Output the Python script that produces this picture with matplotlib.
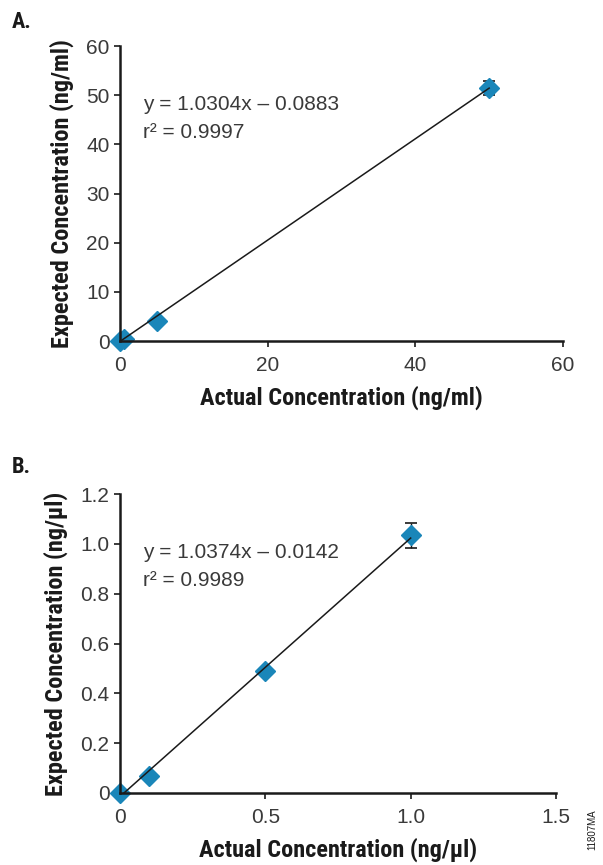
import matplotlib
matplotlib.use("Agg")
import matplotlib.pyplot as plt
import numpy as np
from matplotlib import font_manager

names = {f.name for f in font_manager.fontManager.ttflist}
narrow = "Roboto"
for cand in ["Roboto Condensed", "Liberation Sans Narrow", "Open Sans Condensed",
             "Arial Narrow", "DejaVu Sans Condensed", "Roboto"]:
    if cand in names:
        narrow = cand
        break
plt.rcParams['font.family'] = ['Liberation Sans', 'DejaVu Sans']

# Panel A data
a_x = [0, 0.5, 5, 50]
a_y = [0.0, 0.4, 4.0, 51.45]
a_err = [0, 0, 0, 1.5]
a_slope, a_icpt = 1.0304, -0.0883
a_eq = ["y = 1.0304x \u2013 0.0883", "r\u00b2 = 0.9997"]
a_xticks = [0, 20, 40, 60]
a_yticks = [0, 10, 20, 30, 40, 50, 60]

# Panel B data
b_x = [0, 0.1, 0.5, 1.0]
b_y = [0.0, 0.068, 0.49, 1.035]
b_err = [0, 0, 0, 0.05]
b_slope, b_icpt = 1.0374, -0.0142
b_eq = ["y = 1.0374x \u2013 0.0142", "r\u00b2 = 0.9989"]
b_xticks = [0, 0.5, 1.0, 1.5]
b_xlabels = ["0", "0.5", "1.0", "1.5"]
b_yticks = [0, 0.2, 0.4, 0.6, 0.8, 1.0, 1.2]
b_ylabels = ["0", "0.2", "0.4", "0.6", "0.8", "1.0", "1.2"]

W, H = 603, 865
fig = plt.figure(figsize=(W/100, H/100), dpi=100)

mcol = "#1a86b9"
tcol = "#3a3a3a"
regfam = ['Liberation Sans', 'DejaVu Sans']

def setup(ax, xt, yt, xl, yl, xlab, ylab):
    for s in ["top", "right"]:
        ax.spines[s].set_visible(False)
    for s in ["left", "bottom"]:
        ax.spines[s].set_linewidth(1.8)
        ax.spines[s].set_color("#1a1a1a")
    ax.set_xticks(xt)
    ax.set_yticks(yt)
    if xl is not None:
        ax.set_xticklabels(xl)
    if yl is not None:
        ax.set_yticklabels(yl)
    ax.tick_params(direction="out", length=4.5, width=1.2, color="#1a1a1a",
                   labelsize=15, labelcolor=tcol)
    ax.tick_params(axis="x", pad=6)
    ax.tick_params(axis="y", pad=3)
    for lab in ax.get_xticklabels() + ax.get_yticklabels():
        lab.set_family(regfam)
    ax.set_xlabel(xlab, family=narrow, fontweight="bold", fontsize=17.5, color="#1a1a1a", labelpad=8)
    ax.set_ylabel(ylab, family=narrow, fontweight="bold", fontsize=17.5, color="#1a1a1a", labelpad=9)

def eqtext(lines, y0):
    for i, s in enumerate(lines):
        fig.text(143/W, 1-(y0 + 28*i)/H, s, family=regfam,
                 fontsize=15, color=tcol, va="center")

# Panel A
axA = fig.add_axes([120/W, 1-341/H, (563-120)/W, (341-46)/H])
axA.set_xlim(0, 60)
axA.set_ylim(0, 60)
xx = np.array([0, max(a_x)])
axA.errorbar(a_x, a_y, yerr=a_err, fmt="D", color=mcol, ms=10.5, mec=mcol,
             ecolor="#1a1a1a", elinewidth=1.0, capsize=4, capthick=1.2, zorder=2, clip_on=False)
axA.plot(xx, a_slope*xx + a_icpt, color="#1a1a1a", lw=1.1, zorder=4)
setup(axA, a_xticks, a_yticks, None, None,
      "Actual Concentration (ng/ml)", "Expected Concentration (ng/ml)")
eqtext(a_eq, 104)

# Panel B
axB = fig.add_axes([120/W, 1-793/H, (556-120)/W, (793-494)/H])
axB.set_xlim(0, 1.5)
axB.set_ylim(0, 1.2)
xx = np.array([0, max(b_x)])
axB.errorbar(b_x, b_y, yerr=b_err, fmt="D", color=mcol, ms=10.5, mec=mcol,
             ecolor="#1a1a1a", elinewidth=1.0, capsize=4, capthick=1.2, zorder=2, clip_on=False)
axB.plot(xx, b_slope*xx + b_icpt, color="#1a1a1a", lw=1.1, zorder=4)
setup(axB, b_xticks, b_yticks, b_xlabels, b_ylabels,
      "Actual Concentration (ng/\u00b5l)", "Expected Concentration (ng/\u00b5l)")
eqtext(b_eq, 552)

fig.text(12/W, 1-22/H, "A.", family=narrow, fontweight="bold", fontsize=16, color="#1a1a1a", va="center")
fig.text(12/W, 1-467/H, "B.", family=narrow, fontweight="bold", fontsize=16, color="#1a1a1a", va="center")
fig.text(592/W, 1-830/H, "11807MA", rotation=90, fontsize=7, color="#1a1a1a", ha="center", va="center")

fig.savefig("out.png", dpi=100)
